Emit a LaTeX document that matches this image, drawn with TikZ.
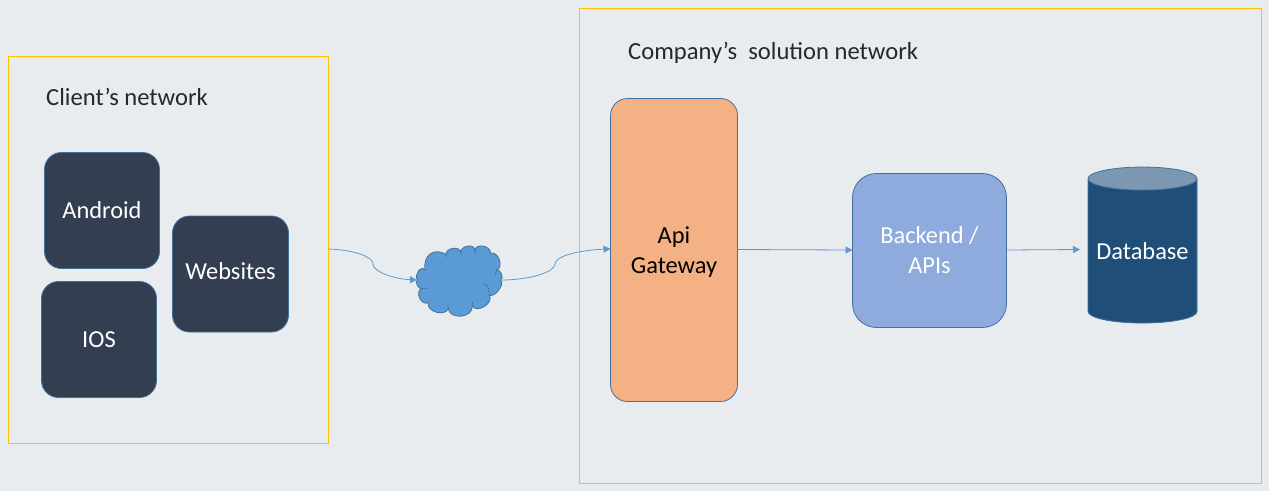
\documentclass[tikz,border=0pt]{standalone}
\usepackage{fontspec}
\setmainfont{Carlito}
\usetikzlibrary{shapes.geometric,arrows.meta}
\definecolor{bgc}{HTML}{E8ECEF}
\definecolor{gold}{HTML}{FFC000}
\definecolor{edgeb}{HTML}{41719C}
\definecolor{darkb}{HTML}{333F50}
\definecolor{orangeb}{HTML}{F4B183}
\definecolor{blueb}{HTML}{8FAADC}
\definecolor{dbb}{HTML}{1F4E79}
\definecolor{dbtop}{HTML}{7B97B2}
\definecolor{cloudb}{HTML}{5B9BD5}
\definecolor{inkc}{HTML}{1F2A33}
\tikzset{
 x=1pt,y=-1pt,
 netbox/.style={draw=gold,line width=1pt,minimum width=#1,anchor=north west,inner sep=0pt,outer sep=0pt},
 tile/.style={draw=edgeb,line width=.8pt,fill=darkb,rounded corners=17pt,text=white,font=\fontsize{24.4}{25}\selectfont,anchor=north west,inner sep=0pt,outer sep=0pt,minimum width=115pt,minimum height=116pt},
 title/.style={font=\fontsize{24.6}{26}\selectfont,text=inkc,anchor=base west,inner sep=0pt},
 flow/.style={draw=cloudb,line width=.8pt,-{Triangle[length=7pt,width=7pt]}},
}
\begin{document}
\begin{tikzpicture}
\useasboundingbox[fill=bgc] (0,0) rectangle (1269,491);
\node[netbox=320pt,minimum height=387pt] (client) at (8.5,56.5) {};
\node[netbox=682pt,minimum height=475pt] (company) at (579.5,8.5) {};
\node[title] (clientt) at (46,105) {Client’s network};
\node[title] (companyt) at (628,59) {Company’s~~solution network};
\node[tile] (android) at (44.5,152.5) {Android};
\node[tile,minimum width=116pt,text depth=5pt] (websites) at (172.5,216) {Websites};
\node[tile] (ios) at (41.5,281.5) {IOS};
\node[tile,fill=orangeb,text=black,minimum width=127pt,minimum height=303pt,align=center,font=\fontsize{24.4}{29.5}\selectfont] (api) at (610.5,98.5) {\rule{0pt}{21pt}Api\\Gateway};
\node[tile,fill=blueb,text=white,minimum width=154pt,minimum height=154pt,rounded corners=24pt,align=center,font=\fontsize{24.4}{30}\selectfont] (backend) at (852.5,173.5) {Backend /\\APIs};
\node[cylinder,shape border rotate=90,aspect=0.25,draw=edgeb,line width=.8pt,cylinder uses custom fill,cylinder body fill=dbb,cylinder end fill=dbtop,minimum width=109pt,minimum height=156pt,inner sep=0pt,outer sep=0pt,text=white,font=\fontsize{24.4}{25}\selectfont] (db) at (1142.5,251) {Database};
% cloud outline, traced puff by puff
\draw[draw=edgeb,line width=.8pt,fill=cloudb,line join=round]
 (417.3,280) .. controls (413.7,274.7) and (421.4,264.7) .. (425,270)
 .. controls (423,256) and (433,247) .. (446,254.3)
 .. controls (446,247.4) and (460.7,245.8) .. (460.7,252.7)
 .. controls (460.7,245.1) and (475,243.1) .. (475,250.7)
 .. controls (475,242.7) and (490.7,245.3) .. (490.7,253.3)
 .. controls (498.2,250.6) and (504.2,267.3) .. (496.7,270)
 .. controls (500.4,268.5) and (504.4,278.5) .. (500.7,280)
 .. controls (505.5,283.6) and (494.1,298.6) .. (489.3,295)
 .. controls (494.3,302.8) and (477.3,313.8) .. (472.3,306)
 .. controls (473.3,318) and (449.3,320.3) .. (448.3,308.3)
 .. controls (445.8,317.3) and (425.8,311.7) .. (428.3,302.7)
 .. controls (421.1,306.1) and (414.5,291.7) .. (421.7,288.3)
 .. controls (418.8,289.9) and (414.4,281.6) .. (417.3,280) -- cycle;
\draw[draw=edgeb,line width=.6pt]
 (483.3,283.3) .. controls (488.7,287) .. (489.3,295)
 (421.7,288.3) .. controls (425,287.5) .. (428,288.3)
 (448.3,308.3) .. controls (447.6,305.5) .. (447.7,303)
 (472.3,306) .. controls (473,304) .. (472.7,301.7)
 (496.7,270) .. controls (496.5,273) .. (495,275)
 (446,254.3) .. controls (446.5,256) .. (447.5,257)
 (460.7,252.7) .. controls (461,254) .. (461.5,255)
 (475,250.7) .. controls (475,252) .. (475,253.5);
\node[minimum width=84pt,minimum height=70pt,inner sep=0pt,outer sep=0pt] (net) at (459,280) {};
\draw[flow] (client.east |- 0,249) .. controls (355,250) and (373,257) .. (373,264) .. controls (373,272) and (395,279) .. (net.west);
\draw[flow] (net.east) .. controls (530,280) and (555,272) .. (555,264) .. controls (555,256) and (580,250) .. (api.west |- 0,249);
\draw[flow] (api.east |- 0,249.5) -- (backend.west |- 0,250);
\draw[flow] (backend.east |- 0,250) -- (1080,249.5);
\end{tikzpicture}
\end{document}
